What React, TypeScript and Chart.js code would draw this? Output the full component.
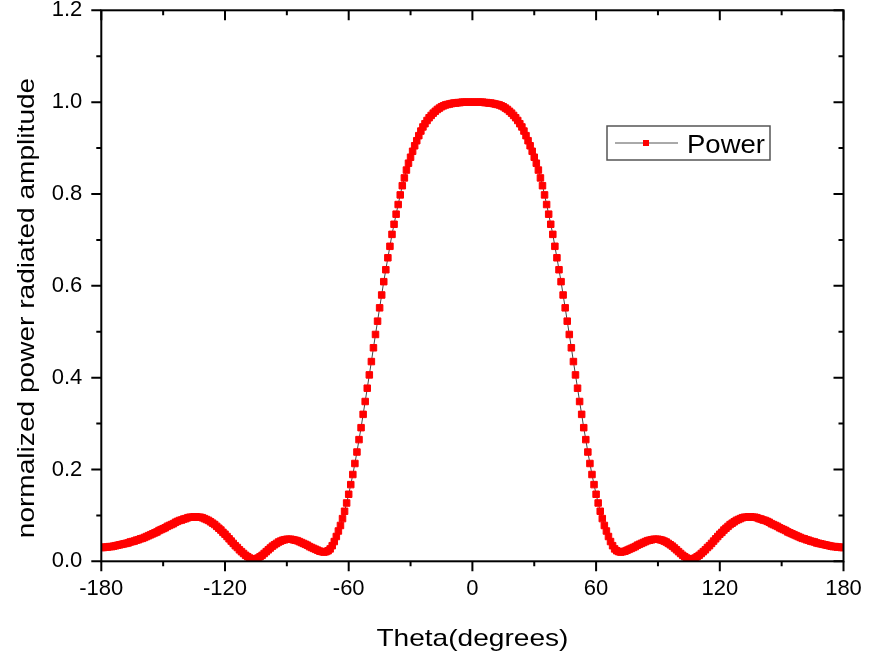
import { Chart, registerables } from 'chart.js';
import { useEffect, useRef } from 'react';

Chart.register(...registerables);

// angle axis, one sample per degree
const thetaDeg = Array.from({ length: 361 }, (_, i) => i - 180);

// normalized power: -180 .. 0
const powerNeg = [
  0.030, 0.030, 0.031, 0.031, 0.032, 0.032, 0.033, 0.034, 0.035, 0.036,
  0.037, 0.038, 0.039, 0.040, 0.042, 0.043, 0.044, 0.046, 0.047, 0.049,
  0.050, 0.052, 0.054, 0.056, 0.058, 0.060, 0.062, 0.064, 0.067, 0.069,
  0.071, 0.073, 0.076, 0.078, 0.080, 0.082, 0.085, 0.087, 0.089, 0.090,
  0.092, 0.093, 0.095, 0.096, 0.096, 0.097, 0.097, 0.096, 0.096, 0.095,
  0.093, 0.091, 0.089, 0.086, 0.083, 0.080, 0.076, 0.072, 0.068, 0.063,
  0.059, 0.054, 0.049, 0.044, 0.039, 0.034, 0.030, 0.025, 0.021, 0.017,
  0.013, 0.010, 0.007, 0.005, 0.005, 0.005, 0.007, 0.010, 0.013, 0.017,
  0.021, 0.025, 0.029, 0.033, 0.036, 0.039, 0.042, 0.044, 0.046, 0.047,
  0.048, 0.048, 0.048, 0.047, 0.046, 0.045, 0.043, 0.041, 0.039, 0.037,
  0.035, 0.032, 0.030, 0.028, 0.026, 0.024, 0.022, 0.021, 0.020, 0.021,
  0.023, 0.027, 0.034, 0.043, 0.054, 0.066, 0.078, 0.093, 0.109, 0.127,
  0.146, 0.167, 0.189, 0.213, 0.238, 0.265, 0.291, 0.320, 0.348, 0.377,
  0.406, 0.435, 0.465, 0.494, 0.523, 0.552, 0.580, 0.609, 0.635, 0.661,
  0.686, 0.712, 0.734, 0.756, 0.777, 0.798, 0.818, 0.835, 0.852, 0.867,
  0.880, 0.893, 0.905, 0.916, 0.927, 0.937, 0.946, 0.953, 0.960, 0.966,
  0.971, 0.976, 0.980, 0.984, 0.987, 0.990, 0.992, 0.994, 0.995, 0.996,
  0.997, 0.998, 0.998, 0.999, 0.999, 1.000, 1.000, 1.000, 1.000, 1.000,
  1.000,
];

// 1 .. 180
const powerPos = [
  1.000, 1.000, 1.000, 1.000, 1.000, 0.999, 0.999, 0.998, 0.998, 0.997,
  0.996, 0.995, 0.994, 0.992, 0.990, 0.987, 0.984, 0.980, 0.976, 0.971,
  0.966, 0.960, 0.953, 0.946, 0.937, 0.927, 0.916, 0.905, 0.893, 0.880,
  0.867, 0.852, 0.835, 0.818, 0.798, 0.777, 0.756, 0.734, 0.712, 0.686,
  0.661, 0.635, 0.609, 0.580, 0.552, 0.523, 0.494, 0.465, 0.435, 0.406,
  0.377, 0.348, 0.320, 0.291, 0.265, 0.238, 0.213, 0.189, 0.167, 0.146,
  0.127, 0.109, 0.093, 0.078, 0.066, 0.054, 0.043, 0.034, 0.027, 0.023,
  0.021, 0.020, 0.021, 0.022, 0.024, 0.026, 0.028, 0.030, 0.032, 0.035,
  0.037, 0.039, 0.041, 0.043, 0.045, 0.046, 0.047, 0.048, 0.048, 0.048,
  0.047, 0.046, 0.044, 0.042, 0.039, 0.036, 0.033, 0.029, 0.025, 0.021,
  0.017, 0.013, 0.010, 0.007, 0.005, 0.005, 0.005, 0.007, 0.010, 0.013,
  0.017, 0.021, 0.025, 0.030, 0.034, 0.039, 0.044, 0.049, 0.054, 0.059,
  0.063, 0.068, 0.072, 0.076, 0.080, 0.083, 0.086, 0.089, 0.091, 0.093,
  0.095, 0.096, 0.096, 0.097, 0.097, 0.096, 0.096, 0.095, 0.093, 0.092,
  0.090, 0.089, 0.087, 0.085, 0.082, 0.080, 0.078, 0.076, 0.073, 0.071,
  0.069, 0.067, 0.064, 0.062, 0.060, 0.058, 0.056, 0.054, 0.052, 0.050,
  0.049, 0.047, 0.046, 0.044, 0.043, 0.042, 0.040, 0.039, 0.038, 0.037,
  0.036, 0.035, 0.034, 0.033, 0.032, 0.032, 0.031, 0.031, 0.030, 0.030,
];

const power = [...powerNeg, ...powerPos];

const xMajor = [-180, -120, -60, 0, 60, 120, 180];
const xMinor = [-150, -90, -30, 30, 90, 150];
const yMajor = [0, 0.2, 0.4, 0.6, 0.8, 1.0, 1.2];
const yMinor = [0.1, 0.3, 0.5, 0.7, 0.9, 1.1];

const seriesName = 'Power';
const xTitle = 'Theta(degrees)';
const yTitle = 'normalized power radiated amplitude';

const FONT = '"Liberation Sans", Arial, sans-serif';

// Origin-like box: ticks out on bottom/left, in on top/right, plus titles and legend
const originFrame = {
  id: 'originFrame',
  afterDatasetsDraw(chart: Chart) {
    const { ctx, chartArea: a } = chart;
    const sx = chart.scales.x;
    const sy = chart.scales.y;
    ctx.save();
    ctx.strokeStyle = '#000';
    ctx.lineWidth = 2;
    ctx.strokeRect(a.left, a.top, a.right - a.left, a.bottom - a.top);

    ctx.beginPath();
    const xt = (v: number, len: number) => {
      const px = sx.getPixelForValue(v);
      ctx.moveTo(px, a.bottom);
      ctx.lineTo(px, a.bottom + len);
      ctx.moveTo(px, a.top);
      ctx.lineTo(px, a.top + len);
    };
    const yt = (v: number, len: number) => {
      const py = sy.getPixelForValue(v);
      ctx.moveTo(a.left, py);
      ctx.lineTo(a.left - len, py);
      ctx.moveTo(a.right, py);
      ctx.lineTo(a.right - len, py);
    };
    xMajor.forEach((v) => xt(v, 10));
    xMinor.forEach((v) => xt(v, 5));
    yMajor.forEach((v) => yt(v, 10));
    yMinor.forEach((v) => yt(v, 5));
    ctx.stroke();

    // axis titles
    ctx.fillStyle = '#000';
    ctx.textAlign = 'center';
    ctx.textBaseline = 'alphabetic';
    ctx.font = `24px ${FONT}`;
    ctx.save();
    ctx.translate((a.left + a.right) / 2, a.bottom + 85);
    ctx.scale(1.17, 1);
    ctx.fillText(xTitle, 0, 0);
    ctx.restore();

    ctx.save();
    ctx.translate(34, 308);
    ctx.rotate(-Math.PI / 2);
    ctx.scale(1.17, 1);
    ctx.fillText(yTitle, 0, 0);
    ctx.restore();

    // legend box
    const lx = 607;
    const ly = 126;
    ctx.strokeStyle = '#555';
    ctx.lineWidth = 1.5;
    ctx.strokeRect(lx, ly, 163, 34);
    ctx.lineWidth = 1;
    ctx.beginPath();
    ctx.moveTo(lx + 8, ly + 17);
    ctx.lineTo(lx + 71, ly + 17);
    ctx.stroke();
    ctx.fillStyle = '#ff0000';
    ctx.fillRect(lx + 36, ly + 14, 6, 6);
    ctx.fillStyle = '#000';
    ctx.textAlign = 'left';
    ctx.font = `25px ${FONT}`;
    ctx.save();
    ctx.translate(lx + 80, ly + 27);
    ctx.scale(1.1, 1);
    ctx.fillText(seriesName, 0, 0);
    ctx.restore();

    ctx.restore();
  },
};

export default function App() {
  const ref = useRef<HTMLCanvasElement>(null);
  const chartInstance = useRef<Chart | null>(null);

  useEffect(() => {
    if (!ref.current) return;
    const ctx = ref.current.getContext('2d');
    if (!ctx) return;
    if (chartInstance.current) chartInstance.current.destroy();

    chartInstance.current = new Chart(ctx, {
      type: 'line',
      data: {
        datasets: [
          {
            label: seriesName,
            data: thetaDeg.map((t, i) => ({ x: t, y: power[i] })),
            borderColor: '#444',
            borderWidth: 1,
            pointStyle: 'rect',
            pointRadius: 4.6,
            pointBorderWidth: 1,
            pointBackgroundColor: '#ff0000',
            pointBorderColor: '#ff0000',
            tension: 0,
            clip: 0,
          },
        ],
      },
      options: {
        animation: false,
        responsive: true,
        maintainAspectRatio: false,
        layout: { padding: { top: 10.3, right: 25.5, left: 0, bottom: 0 } },
        plugins: {
          legend: { display: false },
          tooltip: { enabled: false },
        },
        scales: {
          x: {
            type: 'linear',
            min: -180,
            max: 180,
            grid: { display: false, drawTicks: false },
            border: { display: false },
            ticks: {
              stepSize: 60,
              autoSkip: false,
              maxRotation: 0,
              padding: 14,
              color: '#000',
              font: { family: FONT, size: 22 },
            },
            afterFit: (s) => {
              s.height = 92.7;
              s.paddingLeft = 0;
              s.paddingRight = 0;
            },
          },
          y: {
            min: 0,
            max: 1.2,
            grid: { display: false, drawTicks: false },
            border: { display: false },
            ticks: {
              stepSize: 0.2,
              padding: 19,
              color: '#000',
              font: { family: FONT, size: 22 },
              callback: (v) => Number(v).toFixed(1),
            },
            afterFit: (s) => {
              s.width = 101.3;
              s.paddingTop = 0;
              s.paddingBottom = 0;
            },
          },
        },
      },
      plugins: [originFrame],
    });

    return () => {
      if (chartInstance.current) {
        chartInstance.current.destroy();
        chartInstance.current = null;
      }
    };
  }, []);

  return (
    <div style={{ position: 'fixed', left: 0, top: 0, width: 869, height: 654 }}>
      <canvas ref={ref}></canvas>
    </div>
  );
}
